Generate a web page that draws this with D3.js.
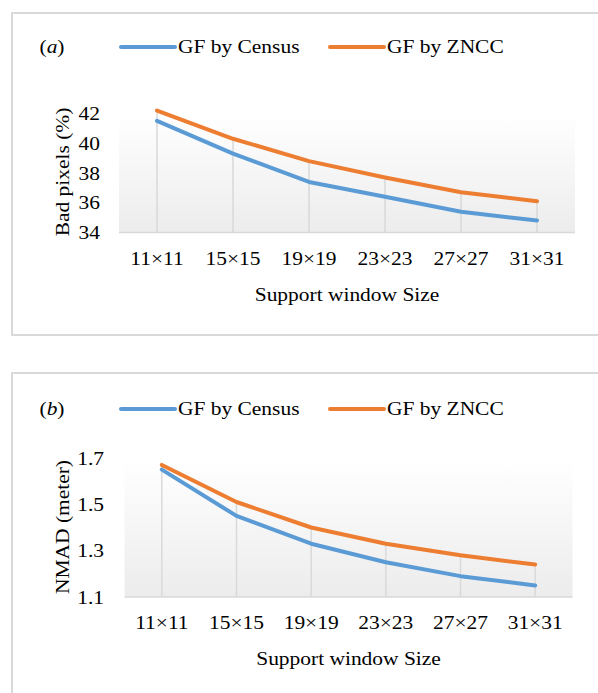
<!DOCTYPE html>
<meta charset="utf-8">
<html>
<head>
<script type="text/javascript" src="https://d3js.org/d3.v7.js"></script>
<style>
  body { margin: 0; background: white; }
  text {
    font-family: "Liberation Serif", "Times New Roman", serif;
    font-size: 19.5px;
    fill: #000;
  }
  /* the reference glyphs look a bit wider than plain Times */
  .wide { transform-box: fill-box; transform-origin: center; transform: scaleX(1.1); }
  .wide.left { transform-origin: left center; }
  .wide.right { transform-origin: right center; }
</style>
</head>
<body>
<div id="plotArea"></div>
<script>
  // data
  const sizes = ["11×11", "15×15", "19×19", "23×23", "27×27", "31×31"];
  const seriesNames = ["GF by Census", "GF by ZNCC"];
  const colors = ["#5b9bd5", "#ed7d31"];

  const censusBad = [41.5, 39.3, 37.4, 36.4, 35.4, 34.8];
  const znccBad = [42.2, 40.3, 38.8, 37.7, 36.7, 36.1];
  const badTicks = [34, 36, 38, 40, 42];

  const censusNmad = [1.65, 1.45, 1.33, 1.25, 1.19, 1.15];
  const znccNmad = [1.67, 1.51, 1.40, 1.33, 1.28, 1.24];
  const nmadTicks = [1.1, 1.3, 1.5, 1.7];

  const svg = d3.select("#plotArea")
    .append("svg")
    .attr("width", 598)
    .attr("height", 693);

  const defs = svg.append("defs");
  const grad = defs.append("linearGradient")
    .attr("id", "bg").attr("x1", 0).attr("y1", 0).attr("x2", 0).attr("y2", 1);
  grad.append("stop").attr("offset", "0%").attr("stop-color", "#ffffff");
  grad.append("stop").attr("offset", "100%").attr("stop-color", "#ececec");

  function drawPanel(p) {
    const g = svg.append("g");

    // outer frame
    g.append("rect")
      .attr("x", 12).attr("y", p.boxTop)
      .attr("width", 620).attr("height", p.boxH)
      .attr("fill", "none")
      .attr("stroke", "#d9d9d9")
      .attr("stroke-width", 2);

    const x = d3.scaleBand().domain(sizes).range(p.xRange);
    const y = d3.scaleLinear().domain(p.yDomain).range(p.yRange);
    const cx = d => x(d) + x.bandwidth() / 2;

    // plot background
    g.append("rect")
      .attr("x", p.xRange[0]).attr("y", p.yRange[1])
      .attr("width", p.xRange[1] - p.xRange[0])
      .attr("height", p.yRange[0] - p.yRange[1])
      .attr("fill", "url(#bg)");

    // drop lines
    g.append("g").selectAll("line")
      .data(sizes)
      .enter().append("line")
      .attr("x1", cx).attr("x2", cx)
      .attr("y1", (d, i) => y(Math.max(p.series[0][i], p.series[1][i])))
      .attr("y2", y(p.yDomain[0]))
      .attr("stroke", "#d9d9d9")
      .attr("stroke-width", 1.5);

    // baseline
    g.append("line")
      .attr("x1", p.xRange[0]).attr("x2", p.xRange[1])
      .attr("y1", y(p.yDomain[0])).attr("y2", y(p.yDomain[0]))
      .attr("stroke", "#d9d9d9")
      .attr("stroke-width", 1.5);

    // y axis labels
    const yAxis = g.append("g")
      .attr("transform", `translate(${p.yLabelX},0)`)
      .call(d3.axisLeft(y).tickValues(p.ticks).tickSize(0).tickPadding(0)
        .tickFormat(d3.format(p.tickFmt)));
    yAxis.select(".domain").remove();
    yAxis.selectAll("text").attr("font-family", null).attr("font-size", null)
      .attr("class", "wide right");

    // x axis labels
    const xAxis = g.append("g")
      .attr("transform", `translate(0,${p.xLabelY})`)
      .call(d3.axisBottom(x).tickSize(0).tickPadding(0));
    xAxis.select(".domain").remove();
    xAxis.selectAll("text").attr("font-family", null).attr("font-size", null)
      .attr("dy", "0.35em").attr("class", "wide");

    // series lines
    const line = d3.line().x((d, i) => cx(sizes[i])).y(d => y(d));
    p.series.forEach(function(s, k) {
      g.append("path")
        .datum(s)
        .attr("d", line)
        .attr("fill", "none")
        .attr("stroke", colors[k])
        .attr("stroke-width", 4)
        .attr("stroke-linecap", "round")
        .attr("stroke-linejoin", "round");
    });

    // panel tag (a)/(b)
    const tag = g.append("text")
      .attr("x", 52).attr("y", p.legendY).attr("dy", "0.35em")
      .attr("text-anchor", "middle").attr("class", "wide");
    tag.append("tspan").text("(");
    tag.append("tspan").attr("font-style", "italic").text(p.tag);
    tag.append("tspan").text(")");

    // legend
    const legX = [121, 330];
    seriesNames.forEach(function(name, k) {
      g.append("line")
        .attr("x1", legX[k]).attr("x2", legX[k] + 54)
        .attr("y1", p.legendY + 1).attr("y2", p.legendY + 1)
        .attr("stroke", colors[k])
        .attr("stroke-width", 4)
        .attr("stroke-linecap", "round");
      g.append("text")
        .attr("x", legX[k] + 57).attr("y", p.legendY).attr("dy", "0.35em")
        .attr("class", "wide left")
        .text(name);
    });

    // axis titles
    g.append("text")
      .attr("transform", `translate(62,${p.yTitleY}) rotate(-90) scale(1.1,1)`)
      .attr("text-anchor", "middle").attr("dy", "0.35em")
      .text(p.yTitle);

    g.append("text")
      .attr("x", (p.xRange[0] + p.xRange[1]) / 2)
      .attr("y", p.xTitleY).attr("dy", "0.35em")
      .attr("text-anchor", "middle").attr("class", "wide")
      .text("Support window Size");
  }

  drawPanel({
    boxTop: 13, boxH: 322, tag: "a", legendY: 46,
    xRange: [119, 575], yDomain: [34, 42], yRange: [232.5, 113.5],
    ticks: badTicks, tickFmt: "d", yLabelX: 100,
    series: [censusBad, znccBad],
    xLabelY: 258, xTitleY: 294,
    yTitle: "Bad pixels (%)", yTitleY: 172
  });

  drawPanel({
    boxTop: 373, boxH: 340, tag: "b", legendY: 408,
    xRange: [124.5, 572.5], yDomain: [1.1, 1.7], yRange: [597, 458],
    ticks: nmadTicks, tickFmt: ".1f", yLabelX: 104,
    series: [censusNmad, znccNmad],
    xLabelY: 622, xTitleY: 658,
    yTitle: "NMAD (meter)", yTitleY: 527
  });
</script>
</body>
</html>
